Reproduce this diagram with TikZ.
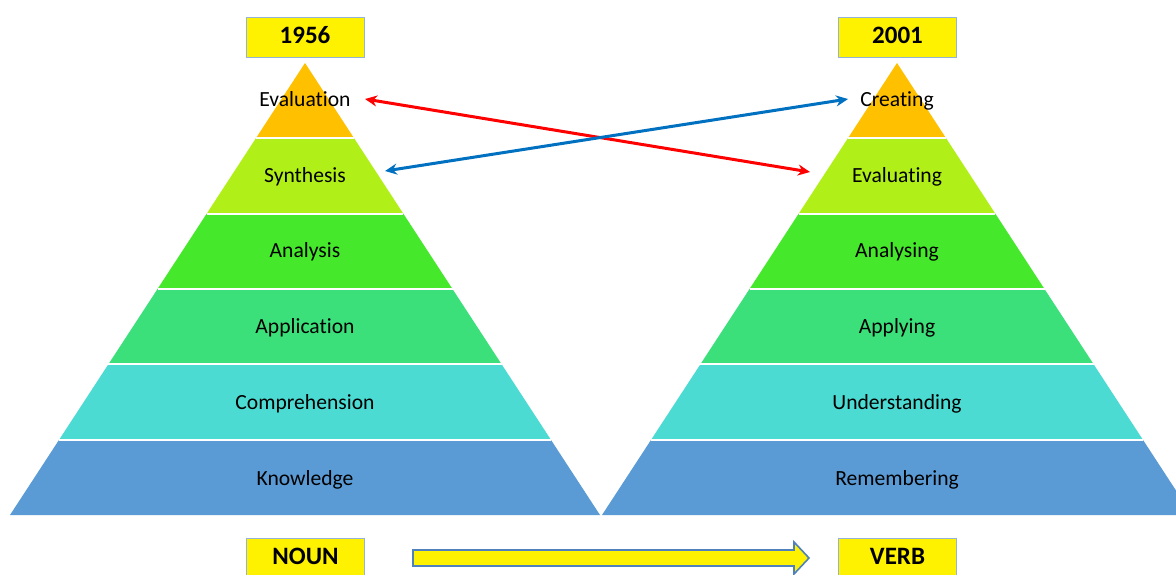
\documentclass[tikz,border=0pt]{standalone}
\usepackage{fontspec}
\setmainfont{Carlito}[Ligatures={NoCommon,NoRare}]
\usetikzlibrary{arrows.meta}
\definecolor{cA}{HTML}{FFC000}
\definecolor{cB}{HTML}{B0F018}
\definecolor{cC}{HTML}{46E82C}
\definecolor{cD}{HTML}{3CE07A}
\definecolor{cE}{HTML}{4BDBD2}
\definecolor{cF}{HTML}{5B9BD5}
\definecolor{boxedge}{HTML}{95B3D7}
\definecolor{arrowedge}{HTML}{4F81BD}
\definecolor{linkred}{HTML}{FF0000}
\definecolor{linkblue}{HTML}{0070C0}
\begin{document}
\begin{tikzpicture}[x=0.5pt,y=-0.5pt,
  lbl/.style={font=\fontsize{10.8}{13}\selectfont, text=black, inner sep=0pt, anchor=base},
  yearbox/.style={draw=boxedge, fill=yellow, line width=0.5pt, minimum width=59pt, minimum height=20pt, inner sep=0pt, text height=0.66em, text depth=0pt, font=\bfseries\fontsize{12.5}{14}\selectfont},
  sepline/.style={draw=white, line width=1pt},
  link/.style={line width=1.5pt, {Stealth[length=6pt,width=5.5pt]}-{Stealth[length=6pt,width=5.5pt]}},
  blockarrow/.style={draw=arrowedge, fill=yellow, line width=0.8pt, line join=miter}]
\useasboundingbox (0,0) rectangle (1176,574);
\clip (0,0) rectangle (1176,574);
\fill[white] (0,0) rectangle (1176,574);
% pyramids
\foreach \cx in {305,897} {
  \foreach \col [count=\k] in {cA,cB,cC,cD,cE,cF} {
    \pgfmathsetmacro{\ya}{63+(\k-1)*75.333}
    \pgfmathsetmacro{\yb}{63+\k*75.333}
    \pgfmathsetmacro{\wa}{(\k-1)*49.167}
    \pgfmathsetmacro{\wb}{\k*49.167}
    \fill[\col] (\cx-\wa,\ya) -- (\cx+\wa,\ya) -- (\cx+\wb,\yb) -- (\cx-\wb,\yb) -- cycle;
  }
  \foreach \k in {1,...,5} {
    \pgfmathsetmacro{\yb}{63+\k*75.333}
    \pgfmathsetmacro{\wb}{\k*49.167}
    \draw[sepline] (\cx-\wb,\yb) -- (\cx+\wb,\yb);
  }
}
% labels left
\node[lbl] (L1) at (305,106) {Evaluation};
\node[lbl] (L2) at (305,182) {Synthesis};
\node[lbl] (L3) at (305,257) {Analysis};
\node[lbl] (L4) at (305,333) {Application};
\node[lbl] (L5) at (305,409) {Comprehension};
\node[lbl] (L6) at (305,485) {Knowledge};
% labels right
\node[lbl] (R1) at (897,106) {Creating};
\node[lbl] (R2) at (897,182) {Evaluating};
\node[lbl] (R3) at (897,257) {Analysing};
\node[lbl] (R4) at (897,333) {Applying};
\node[lbl] (R5) at (897,409) {Understanding};
\node[lbl] (R6) at (897,485) {Remembering};
% boxes
\node[yearbox] (y1) at (305,37) {1956};
\node[yearbox] (y2) at (897.5,37) {2001};
\node[yearbox] (noun) at (305.5,558) {NOUN};
\node[yearbox] (verb) at (897.5,558) {VERB};
% block arrow
\draw[blockarrow] (413,550) -- (794,550) -- (794,542) -- (809,558) -- (794,574) -- (794,566) -- (413,566) -- cycle;
% cross links
\coordinate (redL) at (365,99);
\coordinate (redR) at (810,172);
\coordinate (blueL) at (385,171);
\coordinate (blueR) at (848,99);
\draw[link, linkred] (redL) -- (redR);
\draw[link, linkblue] (blueL) -- (blueR);
\end{tikzpicture}
\end{document}
